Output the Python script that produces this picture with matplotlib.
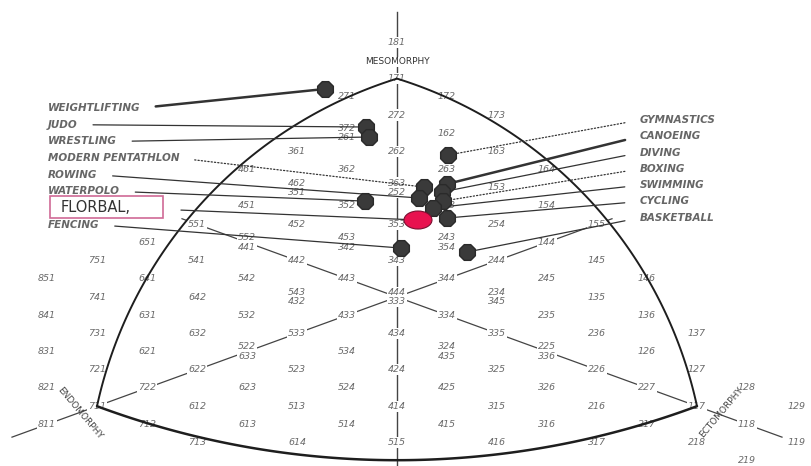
import matplotlib
matplotlib.use("Agg")
import matplotlib.pyplot as plt
import numpy as np
from matplotlib.patches import Ellipse, Rectangle

# somatotype codes printed on the grid (upper one of a stacked pair first)
grid_codes = [
    "181", "171", "271", "172", "272", "173", "372", "261", "162",
    "361", "262", "163", "461", "362", "263", "164",
    "462", "351", "363", "252", "153",
    "451", "352", "253", "154",
    "551", "452", "353", "254", "155",
    "651", "552", "441", "453", "342", "243", "354", "144",
    "751", "541", "442", "343", "244", "145",
    "851", "641", "542", "443", "344", "245", "146",
    "741", "642", "543", "432", "444", "333", "234", "345", "135",
    "841", "631", "532", "433", "334", "235", "136",
    "731", "632", "533", "434", "335", "236", "137",
    "831", "621", "522", "633", "534", "324", "435", "225", "336", "126",
    "721", "622", "523", "424", "325", "226", "127",
    "821", "722", "623", "524", "425", "326", "227", "128",
    "711", "612", "513", "414", "315", "216", "117", "129",
    "811", "712", "613", "514", "415", "316", "217", "118",
    "713", "614", "515", "416", "317", "218", "119",
    "219",
]

# sport group means (somatochart X, Y)
left_sports = ["WEIGHTLIFTING", "JUDO", "WRESTLING", "MODERN PENTATHLON",
               "ROWING", "WATERPOLO", "FENCING"]
left_x = [-1.44, -0.62, -0.56, 0.54, 0.44, -0.64, 0.08]
left_y = [11.43, 9.34, 8.79, 6.04, 5.44, 5.27, 2.69]

right_sports = ["GYMNASTICS", "CANOEING", "DIVING", "BOXING", "SWIMMING",
                "CYCLING", "BASKETBALL"]
right_x = [1.02, 1.0, 0.9, 0.92, 0.72, 1.0, 1.40]
right_y = [7.80, 6.21, 5.77, 5.27, 4.89, 4.34, 2.47]

florbal_x, florbal_y = 0.42, 4.23

W, H = 811, 466
SX, SY = 50.0, 18.2     # pixels per chart unit
X0, Y0 = 397.0, 297.0   # pixel position of the chart origin


def soma_xy(code):
    endo, meso, ecto = (int(c) for c in code)
    return ecto - endo, 2 * meso - endo - ecto


def frac(px, py):
    return px / W, 1 - py / H


fig = plt.figure(figsize=(W / 100, H / 100), dpi=100)
ax = fig.add_axes([0, 0, 1, 1])
ax.set_xlim(-X0 / SX, (W - X0) / SX)
ax.set_ylim((Y0 - H) / SY, Y0 / SY)
ax.axis("off")

line_col = "#333333"
txt_col = "#6a6a6a"

# axes of the chart
ax.plot([0, 0], [(Y0 - 12) / SY, (Y0 - H) / SY], color="#444444", lw=1, zorder=1)
for ex, ey in [(-4.3, 4.3), (4.3, 4.3), (-7.7, -7.7), (7.7, -7.7)]:
    ax.plot([0, ex], [0, ey], color="#444444", lw=0.9, zorder=1)

# grid labels
seen = {}
for code in grid_codes:
    seen.setdefault(soma_xy(code), []).append(code)
for (gx, gy), codes in seen.items():
    offs = [0.0] if len(codes) == 1 else [0.26, -0.26]
    for code, off in zip(codes, offs):
        ax.text(gx, gy + off, code, fontsize=6.8, style="italic", color=txt_col,
                ha="center", va="center", zorder=2,
                bbox=dict(boxstyle="square,pad=0.12", fc="white", ec="none"))

# curved outline
top, left, right = soma_xy("171"), soma_xy("711"), soma_xy("117")
centroid = np.array([(top[0] + left[0] + right[0]) * SX / 3,
                     (top[1] + left[1] + right[1]) * SY / 3])


def arc(p0, p1, sag, n=120):
    a = np.array([p0[0] * SX, p0[1] * SY])
    b = np.array([p1[0] * SX, p1[1] * SY])
    mid = (a + b) / 2
    d = b - a
    c = np.hypot(*d)
    nrm = np.array([-d[1], d[0]]) / c
    if np.dot(nrm, mid - centroid) < 0:
        nrm = -nrm
    r = (c * c / 4 + sag * sag) / (2 * sag)
    ctr = mid - nrm * (r - sag)
    t0 = np.arctan2(a[1] - ctr[1], a[0] - ctr[0])
    t1 = np.arctan2(b[1] - ctr[1], b[0] - ctr[0])
    dt = (t1 - t0 + np.pi) % (2 * np.pi) - np.pi
    t = t0 + dt * np.linspace(0, 1, n)
    return (ctr[0] + r * np.cos(t)) / SX, (ctr[1] + r * np.sin(t)) / SY


for p0, p1, sag, lw in [(top, left, 60, 1.4), (top, right, 60, 1.4), (left, right, 54, 1.8)]:
    xs, ys = arc(p0, p1, sag)
    ax.plot(xs, ys, color="#1e1e1e", lw=lw, zorder=3, solid_capstyle="round")

# axis names
ax.text(*frac(397, 62), "MESOMORPHY", transform=ax.transAxes, fontsize=6.5,
        color="#333333", ha="center", va="center", zorder=4,
        bbox=dict(boxstyle="square,pad=0.1", fc="white", ec="none"))
ax.text(*frac(80, 413), "ENDOMORPHY", transform=ax.transAxes, fontsize=6.5,
        color="#444444", ha="center", va="center", rotation=-50, zorder=4)
ax.text(*frac(721, 412), "ECTOMORPHY", transform=ax.transAxes, fontsize=6.5,
        color="#444444", ha="center", va="center", rotation=50, zorder=4)

dotted = {"MODERN PENTATHLON", "GYMNASTICS", "BOXING"}
thick = {"WEIGHTLIFTING", "CANOEING"}
left_rows = [0, 1, 2, 3, 4, 5, 7]


def leader(name, x, y, px, py, side):
    ls = ":" if name in dotted else "-"
    lw = 1.8 if name in thick else 0.9
    ax.annotate(name, xy=(x, y), xytext=frac(px, py), textcoords="axes fraction",
                fontsize=7.5, style="italic", fontweight="bold", color="#666666",
                ha="left", va="center", zorder=4,
                arrowprops=dict(arrowstyle="-", color=line_col, lw=lw, linestyle=ls,
                                shrinkA=9, shrinkB=0,
                                relpos=(1, 0.5) if side == "l" else (0, 0.5)))


for name, x, y, row in zip(left_sports, left_x, left_y, left_rows):
    leader(name, x, y, 48, 108 + 16.7 * row, "l")
for i, (name, x, y) in enumerate(zip(right_sports, right_x, right_y)):
    leader(name, x, y, 640, 120 + 16.3 * i, "r")

# sport means
ax.scatter(left_x + right_x, left_y + right_y, marker="8", s=150,
           color="#3a3a3a", edgecolors="#2a2a2a", zorder=6)

# florbal
ax.add_patch(Rectangle(frac(50, 218), 113 / W, 22 / H, transform=ax.transAxes,
                       fc="white", ec="#d06a96", lw=1.2, zorder=4))
ax.annotate("FLORBAL,", xy=(florbal_x, florbal_y), xytext=frac(61, 208),
            textcoords="axes fraction", fontsize=10.5, color="#333333",
            ha="left", va="center", zorder=5,
            arrowprops=dict(arrowstyle="-", color=line_col, lw=0.9,
                            shrinkA=34, shrinkB=0, relpos=(1, 0.5)))
ax.add_patch(Ellipse((florbal_x, florbal_y), 28 / SX, 18 / SY, fc="#e8124f",
                     ec="#7a1030", lw=0.8, zorder=7))

fig.savefig("out.png", dpi=100)
